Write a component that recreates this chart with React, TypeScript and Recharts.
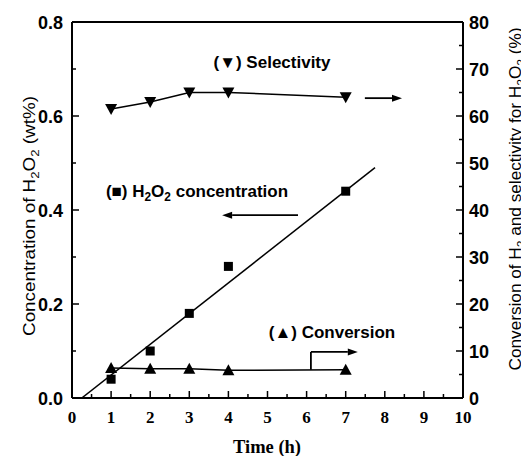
import { ComposedChart, Line, XAxis, YAxis, ReferenceLine } from 'recharts';

// values
const time = [1, 2, 3, 4, 7];
const h2o2Conc = [0.04, 0.1, 0.18, 0.28, 0.44];
const conversion = [6.4, 6.2, 6.2, 5.9, 6.0];
const selectivity = [61.5, 63, 65, 65, 64];
const fitTime = [0.25, 7.75];
const fitConc = [0, 0.49];

const xTicks = [0, 0.5, 1, 1.5, 2, 2.5, 3, 3.5, 4, 4.5, 5, 5.5, 6, 6.5, 7, 7.5, 8, 8.5, 9, 9.5, 10];
const xLabels = ['0', '1', '2', '3', '4', '5', '6', '7', '8', '9', '10'];
const leftTicks = [0, 0.1, 0.2, 0.3, 0.4, 0.5, 0.6, 0.7, 0.8];
const leftLabels = ['0.0', '0.2', '0.4', '0.6', '0.8'];
const rightTicks = [0, 5, 10, 15, 20, 25, 30, 35, 40, 45, 50, 55, 60, 65, 70, 75, 80];
const rightLabels = ['0', '10', '20', '30', '40', '50', '60', '70', '80'];

const concData = time.map((t, i) => ({ t, v: h2o2Conc[i] }));
const convData = time.map((t, i) => ({ t, v: conversion[i] }));
const selData = time.map((t, i) => ({ t, v: selectivity[i] }));
const fitData = fitTime.map((t, i) => ({ t, v: fitConc[i] }));

const SANS = '"Liberation Sans", Arial, sans-serif';
const SERIF = '"Liberation Serif", "Times New Roman", serif';

const labelFor = (value: number, labels: string[]) => {
  const i = labels.findIndex((l) => Math.abs(parseFloat(l) - value) < 1e-9);
  return i >= 0 ? labels[i] : null;
};

function XTick({ x, y, payload }: any) {
  const lab = labelFor(payload.value, xLabels);
  return (
    <g>
      <line x1={x} x2={x} y1={y} y2={y - (lab ? 7 : 4)} stroke="#000" strokeWidth={1.5} />
      {lab && (
        <text x={x} y={y + 25} textAnchor="middle" fontFamily={SERIF} fontWeight="bold" fontSize={17} fill="#000">
          {lab}
        </text>
      )}
    </g>
  );
}

function LeftTick({ x, y, payload }: any) {
  const lab = labelFor(payload.value, leftLabels);
  return (
    <g>
      <line x1={x} x2={x + (lab ? 7 : 4)} y1={y} y2={y} stroke="#000" strokeWidth={1.5} />
      {lab && (
        <text x={x - 9} y={y + 6.5} textAnchor="end" fontFamily={SANS} fontWeight="bold" fontSize={18} fill="#000">
          {lab}
        </text>
      )}
    </g>
  );
}

function RightTick({ x, y, payload }: any) {
  const lab = labelFor(payload.value, rightLabels);
  return (
    <g>
      <line x1={x} x2={x - (lab ? 7 : 4)} y1={y} y2={y} stroke="#000" strokeWidth={1.5} />
      {lab && (
        <text x={x + 6} y={y + 6.5} textAnchor="start" fontFamily={SANS} fontWeight="bold" fontSize={18} fill="#000">
          {lab}
        </text>
      )}
    </g>
  );
}

function SquareDot({ cx, cy, index }: any) {
  return <rect key={`sq-${index}`} x={cx - 4.5} y={cy - 4.5} width={9} height={9} fill="#000" />;
}

function UpDot({ cx, cy, index }: any) {
  return <polygon key={`up-${index}`} points={`${cx},${cy - 6} ${cx - 6},${cy + 5} ${cx + 6},${cy + 5}`} fill="#000" />;
}

function DownDot({ cx, cy, index }: any) {
  return <polygon key={`dn-${index}`} points={`${cx},${cy + 6} ${cx - 6},${cy - 5} ${cx + 6},${cy - 5}`} fill="#000" />;
}

// line segment with a filled arrow head at its end
function Arrow({ x1, y1, x2, y2 }: any) {
  const dx = x2 - x1;
  const dy = y2 - y1;
  const len = Math.sqrt(dx * dx + dy * dy) || 1;
  const ux = dx / len;
  const uy = dy / len;
  const bx = x2 - ux * 10;
  const by = y2 - uy * 10;
  return (
    <g>
      <line x1={x1} y1={y1} x2={bx} y2={by} stroke="#000" strokeWidth={1.8} />
      <polygon
        points={`${x2},${y2} ${bx - uy * 3.5},${by + ux * 3.5} ${bx + uy * 3.5},${by - ux * 3.5}`}
        fill="#000"
      />
    </g>
  );
}

function Plain({ x1, y1, x2, y2 }: any) {
  return <line x1={x1} y1={y1} x2={x2} y2={y2} stroke="#000" strokeWidth={1.8} />;
}

const sub = (s: string) => (
  <tspan fontSize="0.7em" dy="4">
    {s}
  </tspan>
);

export default function App() {
  return (
    <ComposedChart width={521} height={448} margin={{ top: 14, right: 10, left: 8, bottom: 8 }}>
      <XAxis
        xAxisId="x"
        dataKey="t"
        type="number"
        domain={[0, 10]}
        ticks={xTicks}
        interval={0}
        tickSize={0}
        tickMargin={0}
        tickLine={false}
        tick={<XTick />}
        axisLine={{ stroke: '#000', strokeWidth: 2 }}
        height={50}
        allowDataOverflow
      />
      <YAxis
        yAxisId="left"
        orientation="left"
        type="number"
        domain={[0, 0.8]}
        ticks={leftTicks}
        interval={0}
        tickSize={0}
        tickMargin={0}
        tickLine={false}
        tick={<LeftTick />}
        axisLine={{ stroke: '#000', strokeWidth: 2 }}
        width={56}
        allowDataOverflow
      />
      <YAxis
        yAxisId="right"
        orientation="right"
        type="number"
        domain={[0, 80]}
        ticks={rightTicks}
        interval={0}
        tickSize={0}
        tickMargin={0}
        tickLine={false}
        tick={<RightTick />}
        axisLine={{ stroke: '#000', strokeWidth: 2 }}
        width={56}
        allowDataOverflow
      />
      <ReferenceLine xAxisId="x" yAxisId="left" y={0.8} stroke="#000" strokeWidth={2} />

      <Line
        xAxisId="x"
        yAxisId="left"
        data={fitData}
        dataKey="v"
        type="linear"
        stroke="#000"
        strokeWidth={1.5}
        dot={false}
        activeDot={false}
        isAnimationActive={false}
      />
      <Line
        xAxisId="x"
        yAxisId="left"
        data={concData}
        dataKey="v"
        stroke="none"
        dot={(p: any) => <SquareDot {...p} />}
        activeDot={false}
        isAnimationActive={false}
      />
      <Line
        xAxisId="x"
        yAxisId="right"
        data={convData}
        dataKey="v"
        type="linear"
        stroke="#000"
        strokeWidth={1.5}
        dot={(p: any) => <UpDot {...p} />}
        activeDot={false}
        isAnimationActive={false}
      />
      <Line
        xAxisId="x"
        yAxisId="right"
        data={selData}
        dataKey="v"
        type="linear"
        stroke="#000"
        strokeWidth={1.5}
        dot={(p: any) => <DownDot {...p} />}
        activeDot={false}
        isAnimationActive={false}
      />

      {/* annotation arrows */}
      <ReferenceLine xAxisId="x" yAxisId="right" segment={[{ x: 7.49, y: 63.8 }, { x: 8.44, y: 63.8 }]} shape={(p: any) => <Arrow {...p} />} />
      <ReferenceLine xAxisId="x" yAxisId="left" segment={[{ x: 5.78, y: 0.389 }, { x: 3.84, y: 0.389 }]} shape={(p: any) => <Arrow {...p} />} />
      <ReferenceLine xAxisId="x" yAxisId="right" segment={[{ x: 6.11, y: 6.0 }, { x: 6.11, y: 9.8 }]} shape={(p: any) => <Plain {...p} />} />
      <ReferenceLine xAxisId="x" yAxisId="right" segment={[{ x: 6.11, y: 9.8 }, { x: 7.31, y: 9.8 }]} shape={(p: any) => <Arrow {...p} />} />

      {/* annotation texts */}
      <g fontFamily={SANS} fontWeight="bold" fontSize={17} fill="#000">
        <text x={264} y={60} textAnchor="middle">(▼) Selectivity</text>
        <text x={189} y={189} textAnchor="middle">
          (■) H{sub('2')}
          <tspan dy="-4">O</tspan>
          {sub('2')}
          <tspan dy="-4"> concentration</tspan>
        </text>
        <text x={324} y={330} textAnchor="middle">(▲) Conversion</text>
      </g>

      {/* axis titles */}
      <g transform="translate(21,208) rotate(-90)">
        <text x={0} y={6} textAnchor="middle" fontFamily={SANS} fontSize={16.5} fill="#000" textLength={240} lengthAdjust="spacingAndGlyphs">
          Concentration of H{sub('2')}
          <tspan dy="-4">O</tspan>
          {sub('2')}
          <tspan dy="-4"> (wt%)</tspan>
        </text>
      </g>
      <g transform="translate(507,191) rotate(-90)">
        <text x={0} y={6} textAnchor="middle" fontFamily={SANS} fontSize={16.5} fill="#000" textLength={343} lengthAdjust="spacingAndGlyphs">
          Conversion of H{sub('2')}
          <tspan dy="-4"> and selectivity for H</tspan>
          {sub('2')}
          <tspan dy="-4">O</tspan>
          {sub('2')}
          <tspan dy="-4"> (%)</tspan>
        </text>
      </g>
      <text x={259} y={445} textAnchor="middle" fontFamily={SERIF} fontWeight="bold" fontSize={18.5} fill="#000">
        Time (h)
      </text>
    </ComposedChart>
  );
}
